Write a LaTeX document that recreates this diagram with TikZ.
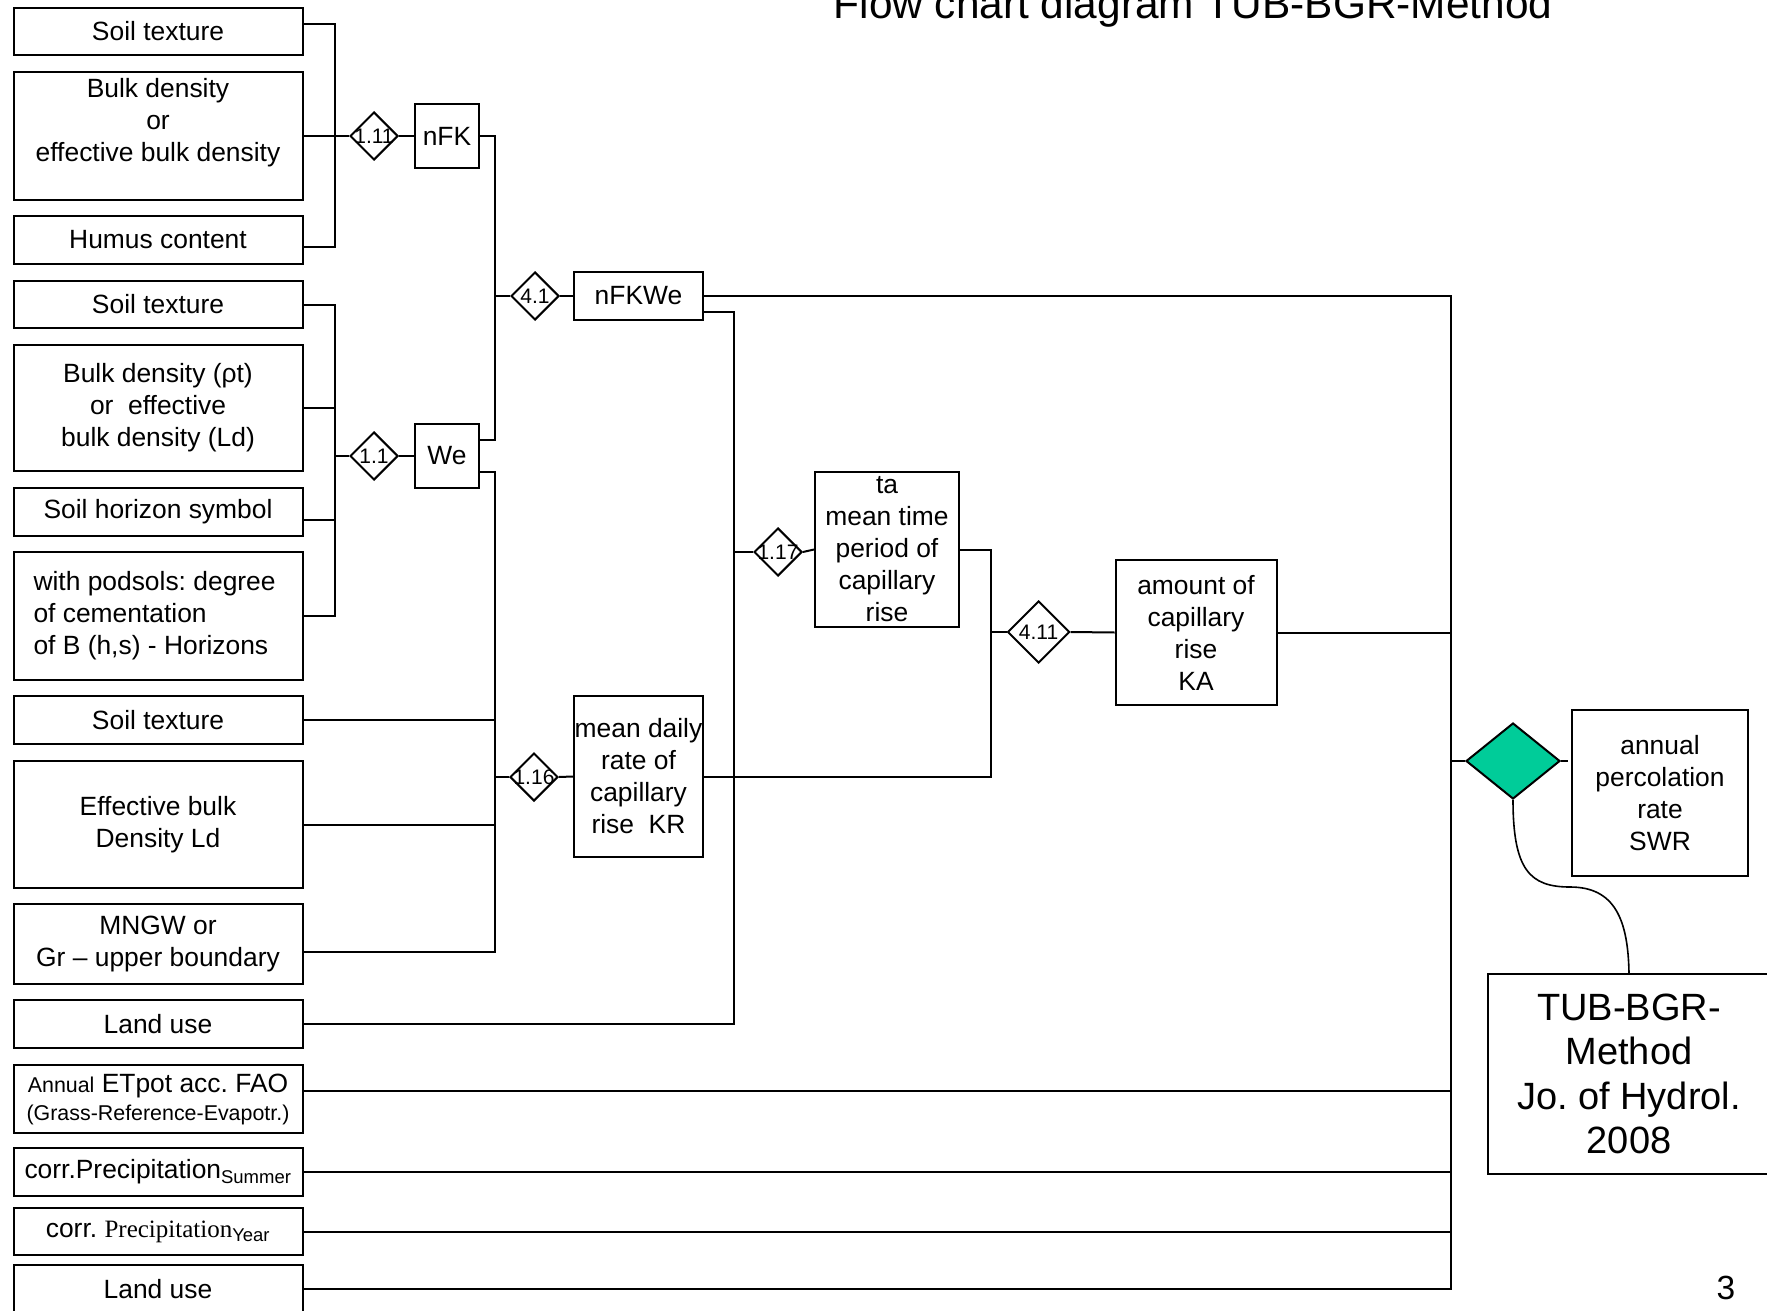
\documentclass[tikz,border=0pt]{standalone}
\usepackage{fontspec}
\setmainfont{Liberation Sans}
\newfontfamily\precfont{Liberation Serif}
\usepackage{xcolor}
\usetikzlibrary{shapes.geometric}
\definecolor{swrgreen}{RGB}{0,204,153}
\frenchspacing

\begin{document}
\begin{tikzpicture}[x=1pt,y=-1pt,
 box/.style={draw,line width=2pt,inner sep=0pt,align=center,
 font=\fontsize{26.4pt}{32pt}\selectfont},
 inbox/.style={box,minimum width=289pt},
 eqn/.style={diamond,draw,line width=2pt,inner sep=0pt,
 minimum width=48pt,minimum height=48pt,font=\fontsize{21pt}{24pt}\selectfont},
 wire/.style={line width=2pt}]
\useasboundingbox (0,0) rectangle (1767,1311);
\node[anchor=base,font=\fontsize{42.4pt}{48pt}\selectfont] (title) at (1193,19)
 {Flow chart diagram TUB-BGR-Method};
\node[inbox,minimum height=47pt] (st1) at (158,31.5) {Soil texture};
\node[inbox,minimum height=128pt] (bd1) at (158,136)
 {Bulk density\\or\\effective bulk density\\\mbox{}};
\node[inbox,minimum height=48pt] (hum) at (158,240) {Humus content};
\node[inbox,minimum height=47pt] (st2) at (158,304.5) {Soil texture};
\node[inbox,minimum height=126pt] (bd2) at (158,408)
 {Bulk density (ρt)\\or~ effective\\bulk density (Ld)};
\node[inbox,minimum height=48pt] (hor) at (158,512) {Soil horizon symbol};
\node[inbox,minimum height=128pt,text width=249pt,align=flush left] (pod) at (158,616)
 {with podsols: degree\\of cementation\\of B (h,s) - Horizons};
\node[inbox,minimum height=48pt] (st3) at (158,720) {Soil texture};
\node[inbox,minimum height=127pt] (ebd) at (158,824.5) {Effective bulk\\Density Ld};
\node[inbox,minimum height=80pt] (mngw) at (158,944) {MNGW or\\Gr – upper boundary};
\node[inbox,minimum height=48pt] (lu1) at (158,1024) {Land use};
\node[inbox,minimum height=68pt] (etp) at (158,1099)
 {{\fontsize{21.4pt}{26pt}\selectfont Annual} ETpot acc. FAO\\[-4pt]
 {\fontsize{21.4pt}{26pt}\selectfont (Grass-Reference-Evapotr.)}};
\node[inbox,minimum height=48pt] (prs) at (158,1172)
 {corr.Precipitation\textsubscript{Summer}};
\node[inbox,minimum height=47pt] (pry) at (158,1231.5)
 {corr. {\precfont\fontsize{25pt}{30pt}\selectfont Precipitation}\textsubscript{Year}};
\node[inbox,minimum height=48pt] (lu2) at (158,1289) {Land use};
\node[box,minimum width=64pt,minimum height=64pt] (nfk) at (447,136) {nFK};
\node[box,minimum width=64pt,minimum height=64pt] (we) at (447,456) {We};
\node[box,minimum width=129pt,minimum height=48pt] (nfkwe) at (638.5,296) {nFKWe};
\node[box,minimum width=129pt,minimum height=161pt] (kr) at (638.5,776.5)
 {mean daily\\rate of\\capillary\\rise~ KR};
\node[box,minimum width=144pt,minimum height=155pt] (ta) at (887,549.5)
 {ta\\mean time\\period of\\capillary\\rise};
\node[box,minimum width=161pt,minimum height=145pt] (ka) at (1196,632.5)
 {amount of\\capillary\\rise\\KA};
\node[box,minimum width=176pt,minimum height=166pt] (swr) at (1660,793)
 {annual\\percolation\\rate\\SWR};
\node[box,minimum width=282pt,minimum height=200pt,
 font=\fontsize{38pt}{44.5pt}\selectfont] (tub) at (1629,1074)
 {TUB-BGR-\\Method\\Jo. of Hydrol.\\2008};
\node[eqn] (e111) at (374,136) {\makebox[0pt]{1.11}};
\node[eqn] (e11) at (374,456) {\makebox[0pt]{1.1}};
\node[eqn] (e41) at (535,296) {\makebox[0pt]{4.1}};
\node[eqn] (e116) at (534,777) {\makebox[0pt]{1.16}};
\node[eqn] (e117) at (778,552) {\makebox[0pt]{1.17}};
\node[eqn,minimum width=62pt,minimum height=62pt] (e411) at (1038.6,632)
 {\makebox[0pt]{4.11}};
\node[eqn,fill=swrgreen,minimum width=94pt,minimum height=76pt] (gd) at (1513,761) {};
\node[anchor=base,font=\fontsize{33.5pt}{40pt}\selectfont] (page) at (1726,1299) {3};
\coordinate (busA) at (335,0);
\coordinate (busB) at (495,0);
\coordinate (busC) at (734,0);
\coordinate (busD) at (991,0);
\coordinate (busE) at (1451,0);
\coordinate (swrin) at ([xshift=-3pt]swr.west);
\draw[wire] ([yshift=7.5pt]st1.east) -| (busA |- e111) -- (e111.west);
\draw[wire] (bd1.east) -- (e111.west);
\draw[wire] ([yshift=-7pt]hum.east) -| (busA |- e111);
\draw[wire] (e111.east) -- (nfk.west);
\draw[wire] (st2.east) -| (busA |- e11) -- (e11.west);
\draw[wire] (bd2.east) -| (busA |- e11);
\draw[wire] ([yshift=-8pt]hor.east) -| (busA |- e11);
\draw[wire] (pod.east) -| (busA |- e11);
\draw[wire] (e11.east) -- (we.west);
\draw[wire] (nfk.east) -| (busB |- e41) -- (e41.west);
\draw[wire] ([yshift=16pt]we.east) -| (busB |- e41);
\draw[wire] (e41.east) -- (nfkwe.west);
\draw[wire] ([yshift=-16pt]we.east) -| (busB |- e116) -- (e116.west);
\draw[wire] (st3.east) -| (busB |- e116);
\draw[wire] (ebd.east) -| (busB |- e116);
\draw[wire] ([yshift=-8pt]mngw.east) -| (busB |- e116);
\draw[wire] (e116.east) -- (kr.west);
\draw[wire] ([yshift=-16pt]nfkwe.east) -| (busC |- e117) -- (e117.west);
\draw[wire] (lu1.east) -| (busC |- e117);
\draw[wire] (e117.east) -- (ta.west);
\draw[wire] (ta.east) -| (busD |- e411) -- (e411.west);
\draw[wire] (kr.east) -| (busD |- e411);
\draw[wire] (e411.east) -- (ka.west);
\draw[wire] (nfkwe.east) -| (busE |- gd);
\draw[wire] (ka.east) -| (busE |- gd);
\draw[wire] ([yshift=8pt]etp.east) -| (busE |- gd);
\draw[wire] (prs.east) -| (busE |- gd);
\draw[wire] (pry.east) -| (busE |- gd);
\draw[wire] (lu2.east) -| (busE |- gd);
\draw[wire] (busE |- gd) -- (gd.west);
\draw[wire] (gd.east) -- (swrin |- gd.east);
\draw[line width=1.6pt] (gd.south) .. controls (1513,870) and (1530,887) .. (1570,887)
 .. controls (1615,887) and (1628,920) .. (tub.north);
\end{tikzpicture}
\end{document}
